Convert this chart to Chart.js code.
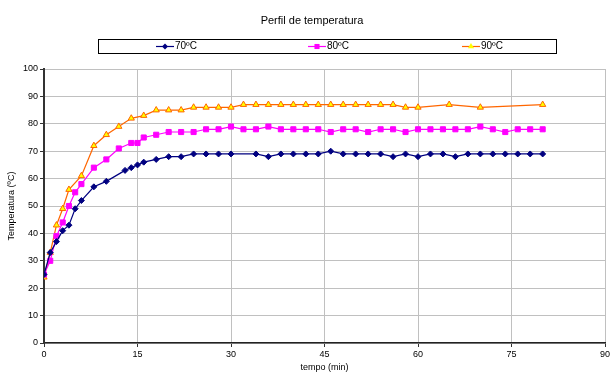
<!DOCTYPE html>
<html>
<head>
<meta charset="utf-8">
<script src="https://cdn.jsdelivr.net/npm/chart.js@4/dist/chart.umd.min.js"></script>
<style>
  html, body { margin: 0; padding: 0; background: #ffffff; }
  #wrap { width: 610px; height: 376px; }
</style>
</head>
<body>
<div id="wrap"><canvas id="c" width="610" height="376"></canvas></div>
<script>
// Temperature profile: minutes vs. temperature for three set points
const chartTitle = 'Perfil de temperatura';
const seriesNames = ['70ºC', '80ºC', '90ºC'];

const time70 = [0,1,2,3,4,5,6,8,10,13,14,15,16,18,20,22,24,26,28,30,34,36,38,40,42,44,46,48,50,52,54,56,58,60,62,64,66,68,70,72,74,76,78,80];
const temp70 = [25,33,37,41,43,49,52,57,59,63,64,65,66,67,68,68,69,69,69,69,69,68,69,69,69,69,70,69,69,69,69,68,69,68,69,69,68,69,69,69,69,69,69,69];

const time80 = [0,1,2,3,4,5,6,8,10,12,14,15,16,18,20,22,24,26,28,30,32,34,36,38,40,42,44,46,48,50,52,54,56,58,60,62,64,66,68,70,72,74,76,78,80];
const temp80 = [25,30,39,44,50,55,58,64,67,71,73,73,75,76,77,77,77,78,78,79,78,78,79,78,78,78,78,77,78,78,77,78,78,77,78,78,78,78,78,79,78,77,78,78,78];

const time90 = [0,1,2,3,4,6,8,10,12,14,16,18,20,22,24,26,28,30,32,34,36,38,40,42,44,46,48,50,52,54,56,58,60,65,70,80];
const temp90 = [24,33,43,49,56,61,72,76,79,82,83,85,85,85,86,86,86,86,87,87,87,87,87,87,87,87,87,87,87,87,87,86,86,87,86,87];

const xTicks = [0, 15, 30, 45, 60, 75, 90];
const yTicks = [0, 10, 20, 30, 40, 50, 60, 70, 80, 90, 100];

const FONT = '"Liberation Sans", Arial, sans-serif';

function pairs(xs, ys) {
  return xs.map((x, i) => ({ x: x, y: ys[i] }));
}

const datasets = [
  {
    label: seriesNames[0],
    data: pairs(time70, temp70),
    borderColor: '#000080',
    backgroundColor: '#000080',
    borderWidth: 1.2,
    pointStyle: 'rectRot',
    pointRadius: 3,
    pointBorderWidth: 1,
    pointBorderColor: '#000080',
    pointBackgroundColor: '#000080',
    tension: 0
  },
  {
    label: seriesNames[1],
    data: pairs(time80, temp80),
    borderColor: '#FF00FF',
    backgroundColor: '#FF00FF',
    borderWidth: 1.2,
    pointStyle: 'rect',
    pointRadius: 3.6,
    pointBorderWidth: 1,
    pointBorderColor: '#FF00FF',
    pointBackgroundColor: '#FF00FF',
    tension: 0
  },
  {
    label: seriesNames[2],
    data: pairs(time90, temp90),
    borderColor: '#FF6600',
    backgroundColor: '#FFFF00',
    borderWidth: 1.2,
    pointStyle: 'triangle',
    pointRadius: 3.6,
    pointBorderWidth: 1,
    pointBorderColor: '#FF6600',
    pointBackgroundColor: '#FFFF00',
    tension: 0
  }
];

// Title and boxed legend row above the plot
const headerPlugin = {
  id: 'header',
  afterDraw(chart) {
    const ctx = chart.ctx;
    ctx.save();
    ctx.fillStyle = '#000';
    ctx.font = '11px ' + FONT;
    ctx.textAlign = 'center';
    ctx.textBaseline = 'middle';
    ctx.fillText(chartTitle, 312, 21);

    ctx.strokeStyle = '#000';
    ctx.lineWidth = 1;
    ctx.strokeRect(98.5, 39.5, 458, 14);

    const starts = [156, 308, 462];
    const cy = 46.5;
    ctx.font = '10px ' + FONT;
    ctx.textAlign = 'left';
    chart.data.datasets.forEach((ds, i) => {
      const x0 = starts[i], x1 = x0 + 18;
      ctx.strokeStyle = ds.borderColor;
      ctx.lineWidth = 1.2;
      ctx.beginPath();
      ctx.moveTo(x0, cy);
      ctx.lineTo(x1, cy);
      ctx.stroke();
      ctx.fillStyle = ds.pointBackgroundColor;
      ctx.strokeStyle = ds.pointBorderColor;
      ctx.lineWidth = 1;
      Chart.helpers.drawPoint(ctx, { pointStyle: ds.pointStyle, radius: ds.pointRadius, rotation: 0 }, (x0 + x1) / 2, cy);
      ctx.fillStyle = '#000';
      ctx.fillText(ds.label, x1 + 1, cy);
    });
    ctx.restore();
  }
};

new Chart(document.getElementById('c'), {
  type: 'line',
  data: { datasets: datasets },
  plugins: [headerPlugin],
  options: {
    responsive: false,
    animation: false,
    layout: { padding: { top: 69, right: 4, left: 0, bottom: 0 } },
    plugins: {
      legend: { display: false },
      title: { display: false },
      tooltip: { enabled: false }
    },
    scales: {
      x: {
        type: 'linear',
        min: 0,
        max: 90,
        afterBuildTicks(scale) { scale.ticks = xTicks.map(v => ({ value: v })); },
        afterFit(scale) { scale.height = 33; scale.paddingLeft = 0; scale.paddingRight = 0; },
        ticks: { color: '#000', font: { family: FONT, size: 9 }, padding: 2, maxRotation: 0 },
        grid: { color: '#c0c0c0', lineWidth: 1, drawTicks: true, tickLength: 4, tickColor: '#333' },
        border: { color: '#222', width: 1.5 },
        title: { display: true, text: 'tempo (min)', color: '#000', font: { family: FONT, size: 9 }, padding: { top: 0, bottom: 3 } }
      },
      y: {
        min: 0,
        max: 100,
        afterBuildTicks(scale) { scale.ticks = yTicks.map(v => ({ value: v })); },
        afterFit(scale) { scale.width = 44; },
        ticks: { color: '#000', font: { family: FONT, size: 9 }, padding: 2 },
        grid: { color: '#c0c0c0', lineWidth: 1, drawTicks: true, tickLength: 4, tickColor: '#333' },
        border: { color: '#333', width: 2 },
        title: { display: true, text: 'Temperatura (ºC)', color: '#000', font: { family: FONT, size: 9 }, padding: { top: 6, bottom: 0 } }
      }
    }
  }
});
</script>
</body>
</html>
